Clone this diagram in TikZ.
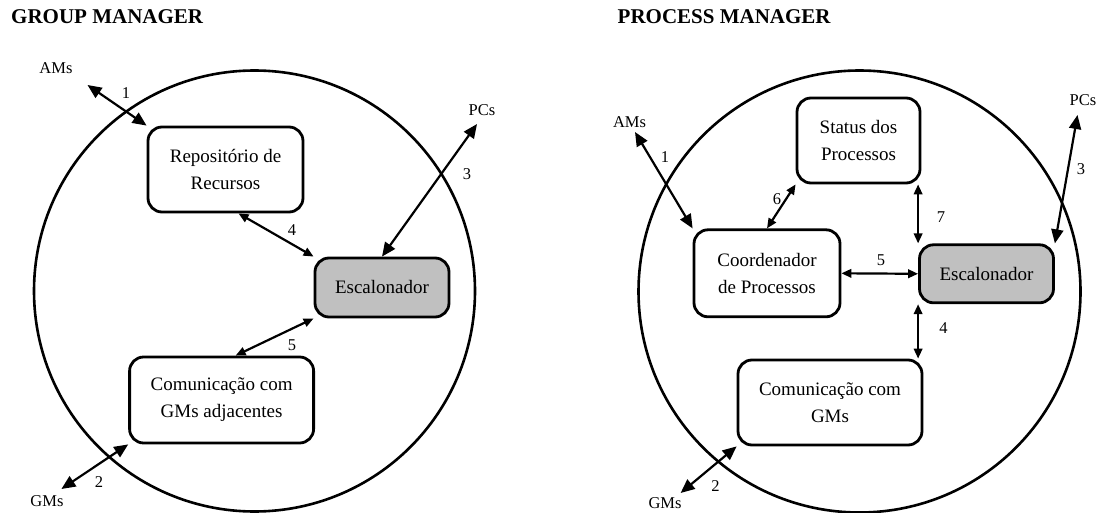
\documentclass[tikz,border=0pt]{standalone}
\usepackage{fontspec}
\setmainfont{Liberation Serif}
\usetikzlibrary{arrows.meta}
\definecolor{schedgray}{HTML}{C0C0C0}
\begin{document}
\begin{tikzpicture}[x=1pt,y=-1pt,
  box/.style={draw, line width=2.8pt, rounded corners=14pt, align=center,
    inner sep=0pt, font=\fontsize{19}{27}\selectfont},
  sched/.style={box, fill=schedgray},
  ring/.style={draw, line width=2.6pt},
  biglink/.style={line width=2.2pt,
    {Triangle[length=14pt,width=12pt]}-{Triangle[length=14pt,width=12pt]}},
  link/.style={line width=2.2pt,
    {Triangle[length=10pt,width=8.5pt]}-{Triangle[length=10pt,width=8.5pt]}},
  ext/.style={font=\fontsize{16.5}{18}\selectfont, inner sep=0pt},
  heading/.style={font=\bfseries\fontsize{21}{24}\selectfont, inner sep=0pt, anchor=west}]
\useasboundingbox (0,0) rectangle (1108,513);

% ---------------- Group Manager ----------------
\node[heading] (gmtitle) at (11,17) {GROUP MANAGER};
\draw[ring] (254.5,291) circle[radius=220.5];

\node[box, minimum width=155pt, minimum height=85pt] (repo) at (225.5,169.5)
  {Repositório de\\Recursos};
\node[sched, minimum width=134pt, minimum height=59pt] (gesc) at (382,287.5)
  {Escalonador};
\node[box, minimum width=184pt, minimum height=86pt] (gcom) at (221.6,400)
  {Comunicação com\\GMs adjacentes};

\node[ext] (gams) at (56,68) {AMs};
\node[ext] (gpcs) at (482,110) {PCs};
\node[ext] (ggms) at (47,501) {GMs};
\coordinate (gamsend) at (87.5,85);
\coordinate (gpcsend) at (477,124);
\coordinate (ggmsend) at (61.4,489);

\draw[biglink] (gamsend) -- (repo.north west);
\draw[biglink] (gpcsend) -- (gesc.north);
\draw[link] ([xshift=13pt]repo.south) -- (gesc.north west);
\draw[link] (gesc.south west) -- ([xshift=14pt]gcom.north);
\draw[biglink] (gcom.south west) -- (ggmsend);

\node[ext] (gl1) at (126,93) {1};
\node[ext] (gl2) at (99,482) {2};
\node[ext] (gl3) at (467,174) {3};
\node[ext] (gl4) at (292,230) {4};
\node[ext] (gl5) at (292,345) {5};

% ---------------- Process Manager ----------------
\node[heading] (pmtitle) at (617.5,17) {PROCESS MANAGER};
\draw[ring] (859.5,291.5) circle[radius=221];

\node[box, minimum width=123pt, minimum height=85pt] (stat) at (858.5,140.5)
  {Status dos\\Processos};
\node[box, minimum width=146pt, minimum height=87pt] (coord) at (767,273.3)
  {Coordenador\\de Processos};
\node[sched, minimum width=134pt, minimum height=58pt] (pesc) at (986.5,273.8)
  {Escalonador};
\node[box, minimum width=184pt, minimum height=85pt] (pcom) at (830,402.5)
  {Comunicação com\\GMs};

\node[ext] (pams) at (629.5,122) {AMs};
\node[ext] (ppcs) at (1083,100) {PCs};
\node[ext] (pgms) at (665,503.5) {GMs};
\coordinate (pamsend) at (635,132);
\coordinate (ppcsend) at (1077.5,115);
\coordinate (pgmsend) at (680.6,493);

\draw[biglink] (pamsend) -- (coord.north west);
\draw[biglink] (ppcsend) -- (pesc.north east);
\draw[link] (stat.south west) -- (coord.north);
\draw[link] (stat.south east -| pesc.north west) -- (pesc.north west);
\draw[link] (coord.east) -- (pesc.west);
\draw[link] (pesc.south west) -- (pesc.south west |- pcom.north);
\draw[biglink] (pcom.south west) -- (pgmsend);

\node[ext] (pl1) at (665,157) {1};
\node[ext] (pl2) at (715.6,486) {2};
\node[ext] (pl3) at (1081,169) {3};
\node[ext] (pl4) at (943.6,328) {4};
\node[ext] (pl5) at (881,260) {5};
\node[ext] (pl6) at (777,199) {6};
\node[ext] (pl7) at (941,217) {7};
\end{tikzpicture}
\end{document}
